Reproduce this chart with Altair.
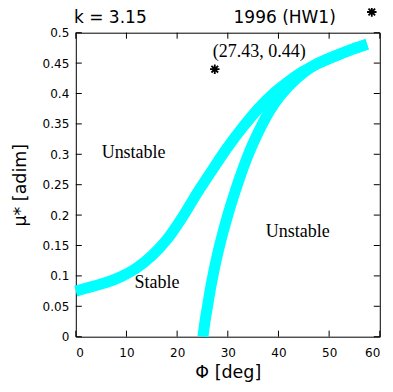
import altair as alt
import pandas as pd

# ---- data ----
phi_upper = [0, 3, 6, 9, 12, 15, 18, 21, 24, 27, 30, 33, 36, 39, 42, 45, 48, 51, 54, 57.5]
mu_upper = [0.075, 0.082, 0.089, 0.099, 0.113, 0.133, 0.160, 0.196, 0.237, 0.275,
            0.312, 0.345, 0.375, 0.400, 0.420, 0.437, 0.450, 0.461, 0.471, 0.481]

phi_lower = [25.1, 25.5, 26.0, 26.6, 27.3, 28.1, 29.0, 30.0, 31.1, 32.3, 33.6, 35.0,
             36.6, 38.3, 40.5, 43.5, 47, 51, 54, 57.5]
mu_lower = [0.0, 0.025, 0.05, 0.08, 0.11, 0.14, 0.17, 0.2, 0.23, 0.26, 0.29, 0.318,
            0.346, 0.372, 0.398, 0.424, 0.446, 0.461, 0.471, 0.481]

point_phi = [27.43]
point_mu = [0.44]
point_label = ["(27.43, 0.44)"]

region_labels = ["Unstable", "Unstable", "Stable"]
region_phi = [5.1, 37.5, 11.6]
region_mu = [0.2934, 0.1635, 0.0796]

x_ticks = [0, 10, 20, 30, 40, 50, 60]
y_ticks = [0, 0.05, 0.1, 0.15, 0.2, 0.25, 0.3, 0.35, 0.4, 0.45, 0.5]

title_left = "k = 3.15"
key_label = "1996 (HW1)"

W, H = 304, 304
CYAN = "#00FFFF"
STAR = "M-1,0L1,0M0,-1L0,1M-0.7,-0.7L0.7,0.7M-0.7,0.7L0.7,-0.7"

xs = alt.Scale(domain=[0, 60], nice=False, zero=False)
ys = alt.Scale(domain=[0, 0.5], nice=False, zero=False)

curves = pd.concat([
    pd.DataFrame({"phi": phi_upper, "mu": mu_upper, "curve": "upper"}),
    pd.DataFrame({"phi": phi_lower, "mu": mu_lower, "curve": "lower"}),
])

x_axis = alt.Axis(values=x_ticks, labelExpr="'' + datum.value", title="Φ [deg]", grid=False,
                  domain=False, tickSize=0, labelPadding=11, titlePadding=5,
                  labelOverlap=False)
y_axis = alt.Axis(values=y_ticks, labelExpr="'' + datum.value", title="μ* [adim]", grid=False,
                  domain=False, tickSize=0, labelPadding=7, titlePadding=13,
                  labelOverlap=False)


def X(field):
    return alt.X(field, scale=xs, axis=x_axis)


def Y(field):
    return alt.Y(field, scale=ys, axis=y_axis)


lines = alt.Chart(curves).mark_line(
    color=CYAN, strokeWidth=11, interpolate="catmull-rom", strokeCap="butt"
).encode(x=X("phi:Q"), y=Y("mu:Q"), detail="curve:N")

pt_df = pd.DataFrame({"phi": point_phi, "mu": point_mu, "label": point_label})
pt = alt.Chart(pt_df).mark_point(
    shape=STAR, size=90, filled=False, stroke="black", strokeWidth=1.8, opacity=1
).encode(x=X("phi:Q"), y=Y("mu:Q"))
pt_text = alt.Chart(pt_df).mark_text(
    font="Liberation Serif", fontSize=18, align="left", baseline="alphabetic",
    dx=-2, dy=-12.5, color="black"
).encode(x=X("phi:Q"), y=Y("mu:Q"), text="label:N")

reg_df = pd.DataFrame({"phi": region_phi, "mu": region_mu, "label": region_labels})
reg = alt.Chart(reg_df).mark_text(
    font="Liberation Serif", fontSize=18, align="left", baseline="alphabetic", color="black"
).encode(x=X("phi:Q"), y=Y("mu:Q"), text="label:N")

xt_df = pd.DataFrame({"phi": x_ticks})
yt_df = pd.DataFrame({"mu": y_ticks})
tick_bottom = alt.Chart(xt_df).mark_rule(color="black", strokeWidth=1).encode(
    x=X("phi:Q"), y=alt.value(H), y2=alt.value(H - 6))
tick_top = alt.Chart(xt_df).mark_rule(color="black", strokeWidth=1).encode(
    x=X("phi:Q"), y=alt.value(0), y2=alt.value(6))
tick_left = alt.Chart(yt_df).mark_rule(color="black", strokeWidth=1).encode(
    y=Y("mu:Q"), x=alt.value(0), x2=alt.value(6))
tick_right = alt.Chart(yt_df).mark_rule(color="black", strokeWidth=1).encode(
    y=Y("mu:Q"), x=alt.value(W - 6), x2=alt.value(W))

hdr_df = pd.DataFrame({"t": [title_left]})
hdr_left = alt.Chart(hdr_df).mark_text(
    font="DejaVu Sans", fontSize=17, align="left", baseline="top", color="black"
).encode(x=alt.value(-1.8), y=alt.value(-23), text="t:N")
key_df = pd.DataFrame({"t": [key_label]})
key_text = alt.Chart(key_df).mark_text(
    font="DejaVu Sans", fontSize=17, align="right", baseline="top", color="black"
).encode(x=alt.value(260), y=alt.value(-23), text="t:N")
key_sym = alt.Chart(key_df).mark_point(
    shape=STAR, size=90, filled=False, stroke="black", strokeWidth=1.8, opacity=1
).encode(x=alt.value(296), y=alt.value(-20.7))

chart = alt.layer(
    lines, tick_bottom, tick_top, tick_left, tick_right, pt, pt_text, reg,
    hdr_left, key_text, key_sym
).properties(
    width=W, height=H,
    autosize=alt.AutoSizeParams(type="none"),
    padding={"left": 67.8, "top": 24.7, "right": 5, "bottom": 47},
    background="white",
).configure_view(
    stroke="black", strokeWidth=1
).configure_axis(
    labelFont="DejaVu Sans", labelFontSize=12, labelColor="black",
    titleFont="DejaVu Sans", titleFontSize=17.5, titleFontWeight="normal", titleColor="black"
)

chart.save("out.html", embed_options={"renderer": "svg", "actions": False})
